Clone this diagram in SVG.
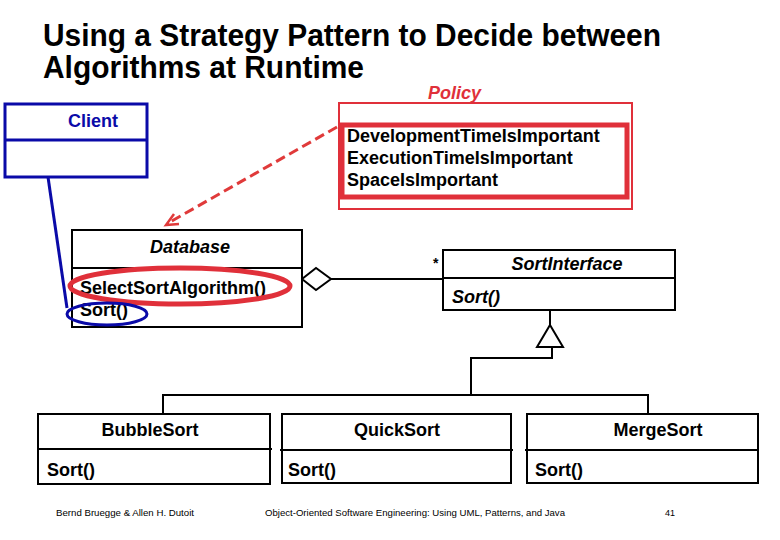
<svg xmlns="http://www.w3.org/2000/svg" width="780" height="540" viewBox="0 0 780 540">
<style>
.t{font-family:"Liberation Sans",Arial,sans-serif;font-weight:bold;fill:#000}
.box{fill:#fff;stroke:#000;stroke-width:2}
.ln{fill:none;stroke:#000;stroke-width:2}
.lbl{font-size:18px}
.it{font-style:italic}
.ft{font-family:"Liberation Sans",Arial,sans-serif;font-size:9px;fill:#000}
</style>
<rect width="780" height="540" fill="#fff"/>
<g id="title">
<text class="t" x="43" y="46" font-size="31" textLength="618" lengthAdjust="spacingAndGlyphs">Using a Strategy Pattern to Decide between</text>
<text class="t" x="43" y="78" font-size="31" textLength="321" lengthAdjust="spacingAndGlyphs">Algorithms at Runtime</text>
</g>
<g id="connectors">
<line x1="48" y1="177" x2="67" y2="308" stroke="#0a0aa8" stroke-width="3"/>
<line x1="337" y1="127" x2="170" y2="222" stroke="#e03a3a" stroke-width="3" stroke-dasharray="10,5"/>
<polyline points="174,214 166,225 179,224" fill="none" stroke="#e03a3a" stroke-width="2.5"/>
<polygon points="302,279 316,268 331,279 316,290" fill="#fff" stroke="#000" stroke-width="2"/>
<line class="ln" x1="331" y1="279" x2="443" y2="279"/>
<text class="t" x="433" y="268" font-size="14" font-weight="normal">*</text>
<line class="ln" x1="550" y1="310" x2="550" y2="325"/>
<polygon points="550,325 563,347 537,347" fill="#fff" stroke="#000" stroke-width="2"/>
<polyline class="ln" points="552,347 552,358 471,358 471,395"/>
<polyline class="ln" points="163,414 163,395 648,395 648,414"/>
</g>
<g id="client">
<rect x="5" y="104" width="142" height="73" fill="#fff" stroke="#0a0aa8" stroke-width="3"/>
<line x1="5" y1="140" x2="147" y2="140" stroke="#0a0aa8" stroke-width="3"/>
<text class="t lbl" x="93" y="127" text-anchor="middle" style="fill:#0a0aa8">Client</text>
</g>
<g id="policy">
<rect x="339" y="103" width="293" height="106" fill="#fff" stroke="#e0303a" stroke-width="2"/>
<rect x="342" y="125" width="285" height="72" fill="none" stroke="#e0303a" stroke-width="5"/>
<text class="t lbl it" x="428" y="99" style="fill:#e0303a">Policy</text>
<text class="t lbl" x="347" y="142">DevelopmentTimeIsImportant</text>
<text class="t lbl" x="347" y="164">ExecutionTimeIsImportant</text>
<text class="t lbl" x="347" y="186">SpaceIsImportant</text>
</g>
<g id="database">
<rect class="box" x="72" y="230" width="230" height="97"/>
<line class="ln" x1="72" y1="268" x2="302" y2="268"/>
<text class="t lbl it" x="190" y="253" text-anchor="middle">Database</text>
<text class="t lbl" x="80" y="294">SelectSortAlgorithm()</text>
<text class="t lbl" x="80" y="316">Sort()</text>
<ellipse cx="180" cy="286" rx="110" ry="18" fill="none" stroke="#e0303a" stroke-width="5"/>
<ellipse cx="107" cy="314" rx="40" ry="11" fill="none" stroke="#0a0aa8" stroke-width="3"/>
</g>
<g id="sortinterface">
<rect class="box" x="443" y="250" width="232" height="60"/>
<line class="ln" x1="443" y1="278" x2="675" y2="278"/>
<text class="t lbl it" x="567" y="270" text-anchor="middle">SortInterface</text>
<text class="t lbl it" x="452" y="303">Sort()</text>
</g>
<g id="bubblesort">
<rect class="box" x="38" y="414" width="232" height="70"/>
<line class="ln" x1="38" y1="449" x2="272" y2="449"/>
<text class="t lbl" x="150" y="436" text-anchor="middle">BubbleSort</text>
<text class="t lbl" x="47" y="476">Sort()</text>
</g>
<g id="quicksort">
<rect class="box" x="282" y="414" width="229" height="69"/>
<line class="ln" x1="280" y1="450" x2="513" y2="450"/>
<text class="t lbl" x="397" y="436" text-anchor="middle">QuickSort</text>
<text class="t lbl" x="288" y="476">Sort()</text>
</g>
<g id="mergesort">
<rect class="box" x="527" y="414" width="231" height="69"/>
<line class="ln" x1="525" y1="450" x2="758" y2="450"/>
<text class="t lbl" x="658" y="436" text-anchor="middle">MergeSort</text>
<text class="t lbl" x="535" y="476">Sort()</text>
</g>
<g id="footer">
<text class="ft" x="56" y="516" textLength="138" lengthAdjust="spacingAndGlyphs">Bernd Bruegge &amp; Allen H. Dutoit</text>
<text class="ft" x="265" y="516" textLength="300" lengthAdjust="spacingAndGlyphs">Object-Oriented Software Engineering: Using UML, Patterns, and Java</text>
<text class="ft" x="665" y="516">41</text>
</g>
</svg>
